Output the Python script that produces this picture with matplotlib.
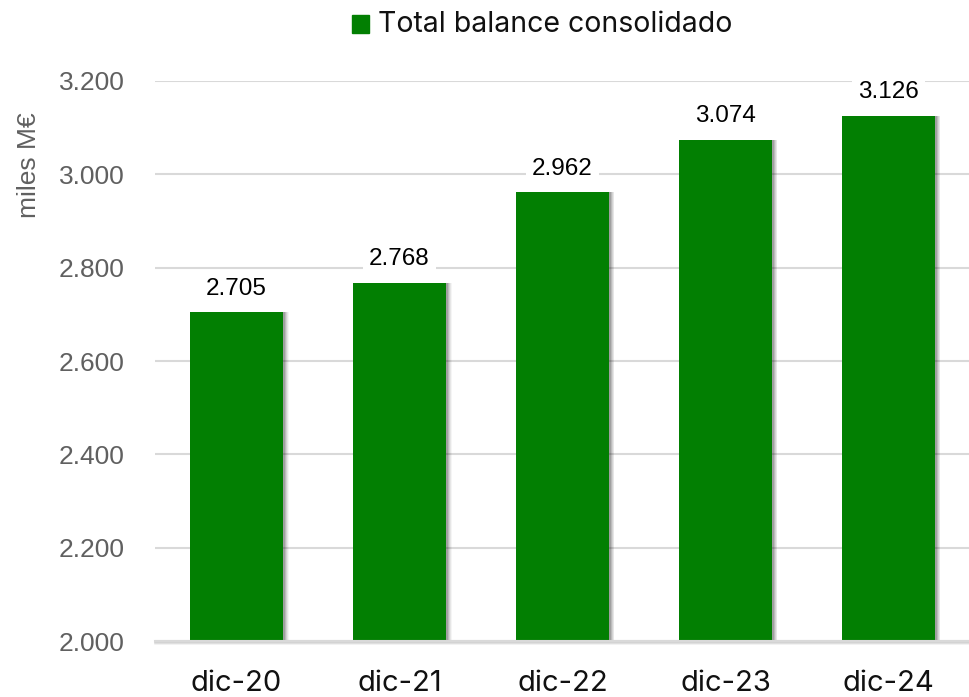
import matplotlib.pyplot as plt
from matplotlib.patches import Rectangle

categories = ["dic-20", "dic-21", "dic-22", "dic-23", "dic-24"]
values = [2705, 2768, 2962, 3074, 3126]
labels = ["2.705", "2.768", "2.962", "3.074", "3.126"]
yticks = [2000, 2200, 2400, 2600, 2800, 3000, 3200]
ytick_labels = ["2.000", "2.200", "2.400", "2.600", "2.800", "3.000", "3.200"]

green = "#027F02"
grey_txt = "#606060"

fig = plt.figure(figsize=(9.7, 6.97), dpi=100)
ax = fig.add_axes([0.1598, 0.0803, 0.8402, 0.8035])

x = range(len(categories))
width = 0.57

# soft drop shadow behind bars
for k, a in enumerate([0.04, 0.06, 0.08, 0.11, 0.14]):
    dx = 0.034 - k * 0.006
    dy = 9 - k * 1.8
    ax.bar([i + dx for i in x], [v - 2000 + dy for v in values], width=width,
           bottom=2000 - dy, color="black", alpha=a, linewidth=0, zorder=2)
ax.bar(x, [v - 2000 for v in values], width=width, bottom=2000,
       color=green, linewidth=0, zorder=3)

for i, (v, t) in enumerate(zip(values, labels)):
    ax.annotate(t, (i, v), xytext=(0, 9), textcoords="offset points",
                ha="center", va="bottom", fontsize=17.5, color="black",
                family="Liberation Sans", zorder=4,
                bbox=dict(boxstyle="square,pad=0.25", fc="white", ec="none"))

ax.set_xlim(-0.5, len(categories) - 0.5)
ax.set_ylim(2000, 3200)
ax.set_yticks(yticks)
ax.set_yticklabels(ytick_labels, fontsize=19, color=grey_txt, family="Liberation Sans")
ax.set_xticks(list(x))
ax.set_xticklabels(categories, fontsize=21, color="#111111", family="Inter")
ax.tick_params(axis="both", length=0)
ax.tick_params(axis="x", pad=21)
ax.tick_params(axis="y", pad=22)

ax.grid(axis="y", color="#d9d9d9", linewidth=1.5, zorder=0)
for s in ax.spines.values():
    s.set_visible(False)
# baseline with shadow
ax.axhline(2000, color="#d9d9d9", linewidth=1.5, zorder=3, clip_on=False)
for k, a in enumerate([0.06, 0.09, 0.12]):
    ax.axhline(2000 - (7 - 2 * k), color="black", alpha=a, linewidth=1.2,
               zorder=1, clip_on=False)

ax.set_ylabel("miles M€", fontsize=19, color=grey_txt, family="Liberation Sans")
ax.yaxis.set_label_coords(-0.14, 0.85)

fig.patches.append(Rectangle((352 / 970, 1 - 33 / 697), 17 / 970, 18 / 697,
                             transform=fig.transFigure, color=green))
fig.text(378 / 970, 1 - 24 / 697, "Total balance consolidado", fontsize=20.5,
         family="Inter", va="center", ha="left", color="#111111")

fig.savefig("out.png", dpi=100)
